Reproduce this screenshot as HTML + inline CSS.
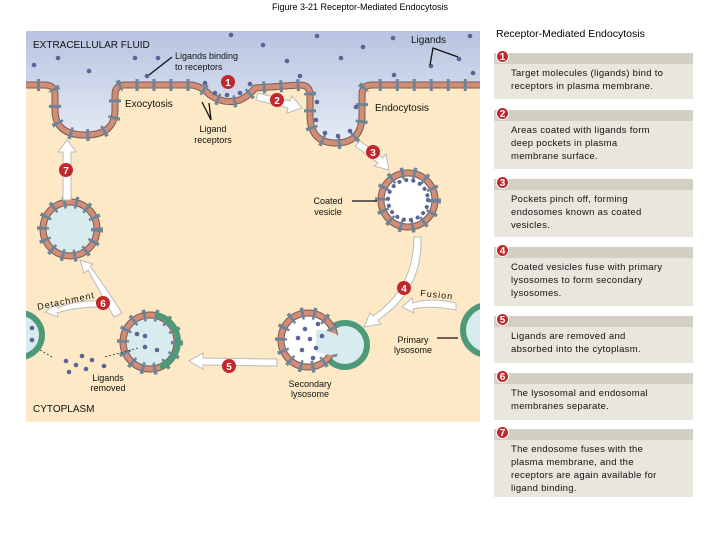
<!DOCTYPE html>
<html><head><meta charset="utf-8"><style>
body{margin:0;background:#fff;width:720px;height:540px;overflow:hidden;font-family:"Liberation Sans",sans-serif}
svg text{font-family:"Liberation Sans",sans-serif}
.box{position:absolute;left:494px;width:199px;background:#e8e6dd;font-size:9.5px;line-height:13px;color:#111;letter-spacing:0.3px}
.box .h{height:11px;background:#d3d0c3}
.box .t{padding:3px 28px 4px 17px}
.n{position:absolute;left:2px;top:-3px;width:13px;height:13px;border-radius:50%;background:#c0282d;color:#fff;font-weight:bold;font-size:10px;line-height:13px;text-align:center;border:1px solid #fff;box-sizing:border-box;letter-spacing:0}
</style></head><body>
<div style="position:absolute;left:0;width:720px;top:2px;text-align:center;font-size:9px">Figure 3-21 Receptor-Mediated Endocytosis</div>
<div style="position:absolute;left:496px;top:28px;font-size:10.5px">Receptor-Mediated Endocytosis</div>
<div class="box" style="top:53px;height:46px"><div class="h"></div><div class="n">1</div><div class="t">Target molecules (ligands) bind to receptors in plasma membrane.</div></div>
<div class="box" style="top:110px;height:59px"><div class="h"></div><div class="n">2</div><div class="t">Areas coated with ligands form deep pockets in plasma membrane surface.</div></div>
<div class="box" style="top:179px;height:58px"><div class="h"></div><div class="n">3</div><div class="t">Pockets pinch off, forming endosomes known as coated vesicles.</div></div>
<div class="box" style="top:247px;height:59px"><div class="h"></div><div class="n">4</div><div class="t">Coated vesicles fuse with primary lysosomes to form secondary lysosomes.</div></div>
<div class="box" style="top:316px;height:47px"><div class="h"></div><div class="n">5</div><div class="t">Ligands are removed and absorbed into the cytoplasm.</div></div>
<div class="box" style="top:373px;height:47px"><div class="h"></div><div class="n">6</div><div class="t">The lysosomal and endosomal membranes separate.</div></div>
<div class="box" style="top:429px;height:68px"><div class="h"></div><div class="n">7</div><div class="t">The endosome fuses with the plasma membrane, and the receptors are again available for ligand binding.</div></div>

<svg width="720" height="540" style="position:absolute;left:0;top:0">
<defs>
<linearGradient id="bg" x1="0" y1="0" x2="0" y2="1"><stop offset="0" stop-color="#b5c2e0"/><stop offset="1" stop-color="#e6ebf4"/></linearGradient>
<clipPath id="cp"><rect x="26" y="31" width="454" height="391"/></clipPath>
</defs>
<g clip-path="url(#cp)">
<rect x="26" y="31" width="454" height="391" fill="#fde9c6"/>
<path d="M20,85 L45,85 Q55,85 55,95 L55,110 Q55,135 85,135 Q115,135 115,110 L115,95 Q115,85 125,85 L190,85 Q200,85 210,95 Q225,105 240,100 Q250,95 255,88 L300,85 Q310,85 310,95 L310,115 Q310,143 336,143 Q362,143 362,115 L362,95 Q362,85 372,85 L490,85 L490,25 L20,25 Z" fill="url(#bg)"/>
<g fill="none" stroke-linejoin="round">
<path d="M20,85 L45,85 Q55,85 55,95 L55,110 Q55,135 85,135 Q115,135 115,110 L115,95 Q115,85 125,85 L190,85 Q200,85 210,95 Q225,105 240,100 Q250,95 255,88 L300,85 Q310,85 310,95 L310,115 Q310,143 336,143 Q362,143 362,115 L362,95 Q362,85 372,85 L490,85" stroke="#7a5a50" stroke-width="7"/>
<path d="M20,85 L45,85 Q55,85 55,95 L55,110 Q55,135 85,135 Q115,135 115,110 L115,95 Q115,85 125,85 L190,85 Q200,85 210,95 Q225,105 240,100 Q250,95 255,88 L300,85 Q310,85 310,95 L310,115 Q310,143 336,143 Q362,143 362,115 L362,95 Q362,85 372,85 L490,85" stroke="#d18d78" stroke-width="5"/>
<path d="M20,85 L45,85 Q55,85 55,95 L55,110 Q55,135 85,135 Q115,135 115,110 L115,95 Q115,85 125,85 L190,85 Q200,85 210,95 Q225,105 240,100 Q250,95 255,88 L300,85 Q310,85 310,95 L310,115 Q310,143 336,143 Q362,143 362,115 L362,95 Q362,85 372,85 L490,85" stroke="#6f8597" stroke-width="12" stroke-dasharray="3 14"/>
</g>
<g>
<circle cx="408" cy="200" r="27" fill="#fff" stroke="#7a5a50" stroke-width="7"/>
<circle cx="408" cy="200" r="27" fill="none" stroke="#d18d78" stroke-width="5"/>
<circle cx="408" cy="200" r="27" fill="none" stroke="#6f8597" stroke-width="12" stroke-dasharray="3 9"/>
<circle cx="408" cy="200" r="20" fill="none" stroke="#5a6496" stroke-width="4" stroke-dasharray="0.1 7" stroke-linecap="round"/>
<circle cx="70" cy="229" r="27" fill="#d8ebee" stroke="#7a5a50" stroke-width="7"/>
<circle cx="70" cy="229" r="27" fill="none" stroke="#d18d78" stroke-width="5"/>
<circle cx="70" cy="229" r="27" fill="none" stroke="#6f8597" stroke-width="12" stroke-dasharray="3 9"/>
<circle cx="150" cy="342" r="27" fill="#d8ebee" stroke="#7a5a50" stroke-width="7"/>
<circle cx="150" cy="342" r="27" fill="none" stroke="#d18d78" stroke-width="5"/>
<circle cx="150" cy="342" r="27" fill="none" stroke="#6f8597" stroke-width="12" stroke-dasharray="3 9"/>
<path d="M156,315 A27,27 0 0 1 160,367" fill="none" stroke="#4e9a78" stroke-width="6"/>
<circle cx="345" cy="345" r="22" fill="#d8ebee" stroke="#4e9a78" stroke-width="6"/>
<circle cx="308" cy="340" r="27" fill="#fff" stroke="#7a5a50" stroke-width="7"/>
<circle cx="308" cy="340" r="27" fill="none" stroke="#d18d78" stroke-width="5"/>
<circle cx="308" cy="340" r="27" fill="none" stroke="#6f8597" stroke-width="12" stroke-dasharray="3 9"/>
<path d="M316,330 Q340,330 345,345 Q340,360 316,352 Z" fill="#d8ebee"/>
<circle cx="488" cy="330" r="25" fill="#d8ebee" stroke="#4e9a78" stroke-width="6"/>
<circle cx="20" cy="335" r="22" fill="#d8ebee" stroke="#4e9a78" stroke-width="6"/>
</g>
<g fill="#5a6496">
<circle cx="231" cy="35" r="2.3"/><circle cx="317" cy="36" r="2.3"/><circle cx="393" cy="38" r="2.3"/><circle cx="470" cy="36" r="2.3"/><circle cx="263" cy="45" r="2.3"/><circle cx="363" cy="47" r="2.3"/><circle cx="34" cy="65" r="2.3"/><circle cx="58" cy="58" r="2.3"/><circle cx="89" cy="71" r="2.3"/><circle cx="135" cy="58" r="2.3"/><circle cx="158" cy="58" r="2.3"/><circle cx="287" cy="61" r="2.3"/><circle cx="341" cy="58" r="2.3"/><circle cx="459" cy="59" r="2.3"/><circle cx="431" cy="66" r="2.3"/><circle cx="147" cy="76" r="2.3"/><circle cx="300" cy="76" r="2.3"/><circle cx="394" cy="75" r="2.3"/><circle cx="473" cy="73" r="2.3"/>
<circle cx="205" cy="83" r="2.3"/><circle cx="215" cy="93" r="2.3"/><circle cx="227" cy="95" r="2.3"/><circle cx="240" cy="93" r="2.3"/><circle cx="250" cy="84" r="2.3"/>
<circle cx="317" cy="102" r="2.3"/><circle cx="316" cy="120" r="2.3"/><circle cx="325" cy="133" r="2.3"/><circle cx="338" cy="136" r="2.3"/><circle cx="350" cy="131" r="2.3"/><circle cx="356" cy="107" r="2.3"/>
<circle cx="137" cy="334" r="2.3"/><circle cx="145" cy="347" r="2.3"/><circle cx="157" cy="350" r="2.3"/><circle cx="145" cy="336" r="2.3"/>
<circle cx="305" cy="329" r="2.3"/><circle cx="298" cy="338" r="2.3"/><circle cx="310" cy="339" r="2.3"/><circle cx="322" cy="336" r="2.3"/><circle cx="302" cy="350" r="2.3"/><circle cx="316" cy="348" r="2.3"/><circle cx="318" cy="324" r="2.3"/><circle cx="313" cy="358" r="2.3"/>
<circle cx="66" cy="361" r="2.3"/><circle cx="76" cy="365" r="2.3"/><circle cx="82" cy="356" r="2.3"/><circle cx="92" cy="360" r="2.3"/><circle cx="86" cy="369" r="2.3"/><circle cx="104" cy="366" r="2.3"/><circle cx="69" cy="372" r="2.3"/>
<circle cx="32" cy="328" r="2.3"/><circle cx="32" cy="340" r="2.3"/>
</g>
<g fill="#fff" stroke="#bbb" stroke-width="1">
<path d="M63,200 L63,152 L58,152 L67,140 L76,152 L71,152 L71,200 Z"/>
<path d="M258,93 L290,101 L292,96 L302,108 L287,113 L288,108 L256,100 Z"/>
<path d="M360,141 L383,158 L386,154 L389,170 L374,166 L378,163 L355,146 Z"/>
<path d="M414,237 L421,237 Q423,290 378,320 L381,324 L364,327 L370,313 L373,316 Q414,288 414,237 Z"/>
<path d="M456,303 Q430,297 413,303 L412,298 L402,307 L414,313 L413,309 Q430,305 456,310 Z"/>
<path d="M277,359 L203,358 L203,353 L189,361 L203,369 L203,365 L277,366 Z"/>
<path d="M122,313 L114,317 Q96,285 88,270 L84,273 L80,260 L93,264 L90,266 Q104,285 122,313 Z"/>
<path d="M100,301 Q75,300 58,308 L56,304 L45,312 L58,317 L57,313 Q75,307 100,307 Z"/>
</g>
<g stroke="#333" stroke-width="0.8" fill="none" stroke-dasharray="2 2">
<path d="M40,350 L52,357"/><path d="M138,348 L105,357"/>
</g>
<g stroke="#111" stroke-width="1.3" fill="none">
<path d="M149,75 L172,57"/><path d="M430,65 L433,48 L458,57"/><path d="M202,102 L211,120 L209,103"/><path d="M352,201 L377,201"/><path d="M437,338 L458,338"/>
</g>
<g font-size="10" font-weight="bold" text-anchor="middle">
<g fill="#c0282d"><circle cx="228" cy="82" r="7"/><circle cx="277" cy="100" r="7"/><circle cx="373" cy="152" r="7"/><circle cx="66" cy="170" r="7"/><circle cx="404" cy="288" r="7"/><circle cx="103" cy="303" r="7"/><circle cx="229" cy="366" r="7"/></g>
<g fill="#fff"><text x="228" y="86">1</text><text x="277" y="104">2</text><text x="373" y="156">3</text><text x="66" y="174">7</text><text x="404" y="292">4</text><text x="103" y="307">6</text><text x="229" y="370">5</text></g>
</g>
<g font-size="9" fill="#111">
<text x="33" y="48" font-size="10">EXTRACELLULAR FLUID</text>
<text x="175" y="59">Ligands binding</text><text x="175" y="70">to receptors</text>
<text x="411" y="43" font-size="10">Ligands</text>
<text x="125" y="107" font-size="10">Exocytosis</text>
<text x="213" y="132" text-anchor="middle">Ligand</text><text x="213" y="143" text-anchor="middle">receptors</text>
<text x="375" y="111" font-size="10">Endocytosis</text>
<text x="328" y="204" text-anchor="middle">Coated</text><text x="328" y="215" text-anchor="middle">vesicle</text>
<text x="420" y="296" transform="rotate(6 420 296)" letter-spacing="1">Fusion</text>
<text x="38" y="310" transform="rotate(-12 38 310)" letter-spacing="1">Detachment</text>
<text x="413" y="343" text-anchor="middle">Primary</text><text x="413" y="353" text-anchor="middle">lysosome</text>
<text x="310" y="387" text-anchor="middle">Secondary</text><text x="310" y="397" text-anchor="middle">lysosome</text>
<text x="108" y="381" text-anchor="middle">Ligands</text><text x="108" y="391" text-anchor="middle">removed</text>
<text x="33" y="412" font-size="10">CYTOPLASM</text>
</g>
</svg>
</body></html>
